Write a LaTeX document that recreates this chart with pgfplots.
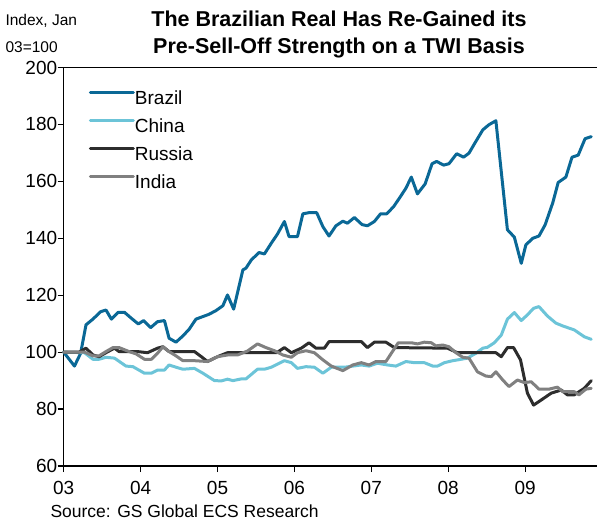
\documentclass[border=0pt]{standalone}
\usepackage{pgfplots}
\pgfplotsset{compat=1.18}
\usepackage{fontspec}
\setmainfont{Liberation Sans}
\definecolor{brazil}{RGB}{10,104,150}
\definecolor{china}{RGB}{108,196,216}
\definecolor{russia}{RGB}{45,45,45}
\definecolor{india}{RGB}{128,128,128}
\begin{document}
\begin{tikzpicture}[x=1pt,y=1pt]
\path[use as bounding box] (-63.7,-54) rectangle (533.3,466);
\begin{axis}[
  at={(0,0)}, anchor=south west,
  scale only axis, width=533.3pt, height=398.5pt,
  xmin=2003, xmax=2009.935, ymin=60, ymax=200,
  axis x line*=box, axis y line*=left,
  xtick pos=lower, ytick pos=left,
  axis line style={line width=1.4pt, black},
  tick style={line width=1.2pt, black},
  tick align=outside, major tick length=6pt,
  xtick={2003,2004,2005,2006,2007,2008,2009},
  xticklabels={03,04,05,06,07,08,09},
  ytick={60,80,100,120,140,160,180,200},
  /pgf/number format/assume math mode=true,
  /pgf/number format/1000 sep={},
  tick label style={font=\fontsize{19}{19}\selectfont},
  xticklabel style={yshift=-6pt},
  yticklabel style={xshift=3pt},
  clip=false,
  legend cell align=left,
  legend style={at={(axis description cs:0.047,0.944)}, anchor=north west, draw=none, fill=none,
    inner sep=0pt, row sep=10pt, font=\fontsize{19}{19}\selectfont,
    nodes={inner sep=0pt, text height=14pt, text depth=4pt},
    /tikz/every even column/.append style={column sep=4pt}},
  legend image code/.code={\draw[#1] (0pt,6.5pt) -- (43pt,6.5pt);},
  every axis plot/.append style={line width=3pt, line join=round, line cap=round},
]
\addplot[color=brazil] coordinates {
(2003.00,100) (2003.14,95.1) (2003.22,99.6) (2003.29,109.6) (2003.38,111.6) (2003.48,114.2)
(2003.55,114.8) (2003.62,111.6) (2003.71,114.0) (2003.79,114.0) (2003.88,111.9) (2003.97,109.9)
(2004.04,111.1) (2004.13,108.6) (2004.22,110.7) (2004.31,111.1) (2004.37,104.9) (2004.46,103.5)
(2004.55,105.7) (2004.63,108.0) (2004.72,111.6) (2004.81,112.5) (2004.89,113.3) (2004.98,114.6)
(2005.07,116.3) (2005.13,120.1) (2005.21,115.1) (2005.33,128.9) (2005.37,129.5) (2005.44,132.4)
(2005.54,135.0) (2005.61,134.5) (2005.70,138.3) (2005.78,141.5) (2005.87,145.9) (2005.93,140.6)
(2006.04,140.6) (2006.11,148.6) (2006.19,149.0) (2006.29,149.0) (2006.37,144.1) (2006.45,140.8)
(2006.54,144.4) (2006.63,146.0) (2006.69,145.3) (2006.78,147.3) (2006.88,144.8) (2006.95,144.4)
(2007.04,145.9) (2007.12,148.6) (2007.20,148.6) (2007.29,151.1) (2007.38,154.7) (2007.45,157.6)
(2007.52,161.5) (2007.60,155.6) (2007.70,159.1) (2007.79,166.2) (2007.85,167.0) (2007.94,165.7)
(2008.01,166.2) (2008.11,169.7) (2008.20,168.5) (2008.27,169.9) (2008.35,173.6) (2008.45,178.1)
(2008.53,179.9) (2008.62,181.3) (2008.77,143.0) (2008.86,140.4) (2008.95,131.2) (2009.01,137.7)
(2009.10,140.0) (2009.18,140.8) (2009.26,144.7) (2009.36,152.5) (2009.43,159.6) (2009.53,161.5)
(2009.61,168.5) (2009.69,169.2) (2009.78,175.0) (2009.86,175.7)
};
\addlegendentry{Brazil}
\addplot[color=china] coordinates {
(2003.00,100) (2003.27,99.8) (2003.38,97.5) (2003.46,97.5) (2003.55,98.2) (2003.66,97.9)
(2003.81,95.1) (2003.90,94.9) (2004.05,92.6) (2004.14,92.6) (2004.22,93.7) (2004.31,93.7)
(2004.37,95.5) (2004.46,94.7) (2004.55,94.0) (2004.70,94.3) (2004.81,92.6) (2004.96,90.0)
(2005.05,89.9) (2005.13,90.5) (2005.20,90.0) (2005.31,90.6) (2005.37,90.6) (2005.52,94.0)
(2005.61,94.0) (2005.70,94.7) (2005.87,97.0) (2005.96,96.3) (2006.04,94.3) (2006.15,94.9)
(2006.26,94.7) (2006.37,92.6) (2006.48,94.7) (2006.54,94.7) (2006.65,94.7) (2006.76,95.1)
(2006.87,95.5) (2006.97,95.1) (2007.08,96.1) (2007.21,95.5) (2007.32,95.1) (2007.45,96.7)
(2007.56,96.3) (2007.69,96.3) (2007.80,95.1) (2007.86,95.1) (2007.95,96.3) (2008.06,97.0)
(2008.17,97.5) (2008.25,97.9) (2008.36,99.6) (2008.45,101.4) (2008.51,101.7) (2008.60,103.3)
(2008.69,106.0) (2008.77,111.6) (2008.86,113.9) (2008.95,111.1) (2009.03,113.1) (2009.11,115.4)
(2009.18,116.0) (2009.29,112.7) (2009.40,110.2) (2009.49,109.2) (2009.64,107.8) (2009.77,105.4)
(2009.86,104.5)
};
\addlegendentry{China}
\addplot[color=russia] coordinates {
(2003.00,100) (2003.20,100) (2003.29,101.4) (2003.38,99.0) (2003.46,98.4) (2003.55,99.8)
(2003.66,101.4) (2003.72,100.2) (2003.96,100.2) (2004.09,99.8) (2004.22,101.4) (2004.29,101.9)
(2004.37,100.2) (2004.70,100.2) (2004.79,98.4) (2004.87,96.7) (2005.00,98.4) (2005.13,99.8)
(2005.77,99.8) (2005.87,101.6) (2005.96,99.8) (2006.09,101.4) (2006.19,103.3) (2006.28,101.4)
(2006.39,101.4) (2006.45,103.7) (2006.87,103.7) (2006.95,101.6) (2007.04,103.5) (2007.19,103.5)
(2007.30,101.6) (2007.99,101.4) (2008.12,99.8) (2008.62,99.8) (2008.69,98.4) (2008.77,101.6)
(2008.85,101.6) (2008.94,97.3) (2009.03,85.6) (2009.11,81.4) (2009.21,83.2) (2009.34,85.6)
(2009.47,86.7) (2009.55,85.0) (2009.64,85.0) (2009.77,87.3) (2009.86,90.0)
};
\addlegendentry{Russia}
\addplot[color=india] coordinates {
(2003.00,100) (2003.27,100) (2003.38,98.7) (2003.46,98.7) (2003.55,100.2) (2003.64,101.6)
(2003.72,101.6) (2003.85,100.2) (2003.94,99.4) (2004.05,97.5) (2004.14,97.5) (2004.22,99.6)
(2004.29,101.9) (2004.37,100.2) (2004.46,98.7) (2004.55,97.0) (2004.70,97.0) (2004.87,96.7)
(2005.00,98.4) (2005.13,99.0) (2005.26,99.0) (2005.39,100.4) (2005.52,102.9) (2005.63,101.6)
(2005.74,100.5) (2005.85,99.0) (2005.96,98.2) (2006.04,99.8) (2006.15,100.5) (2006.26,99.8)
(2006.37,97.3) (2006.48,95.1) (2006.63,93.5) (2006.76,95.5) (2006.87,96.3) (2006.97,95.5)
(2007.06,96.7) (2007.19,96.7) (2007.35,103.3) (2007.52,103.3) (2007.60,102.9) (2007.69,103.5)
(2007.78,103.3) (2007.84,102.2) (2007.93,102.5) (2008.01,101.9) (2008.10,99.8) (2008.19,98.2)
(2008.27,97.9) (2008.38,93.1) (2008.49,91.6) (2008.56,91.4) (2008.62,93.1) (2008.71,90.2)
(2008.79,87.9) (2008.90,90.2) (2008.99,89.3) (2009.08,89.6) (2009.18,87.0) (2009.31,87.0)
(2009.42,87.7) (2009.49,86.1) (2009.64,86.1) (2009.70,85.0) (2009.79,87.0) (2009.86,87.3)
};
\addlegendentry{India}
\end{axis}
\node[anchor=base west, font=\fontsize{15.5}{15.5}\selectfont] at (-61.7,440) {Index, Jan};
\node[anchor=base west, font=\fontsize{15.5}{15.5}\selectfont] at (-61.7,413) {03=100};
\node[anchor=base, font=\fontsize{21.5}{21.5}\selectfont\bfseries] at (275.3,439.5) {The Brazilian Real Has Re-Gained its};
\node[anchor=base, font=\fontsize{21.5}{21.5}\selectfont\bfseries] at (275.3,412.5) {Pre-Sell-Off Strength on a TWI Basis};
\node[anchor=base west, font=\fontsize{17.5}{17.5}\selectfont] at (-16.7,-51) {Source: GS Global ECS Research};
\end{tikzpicture}
\end{document}
